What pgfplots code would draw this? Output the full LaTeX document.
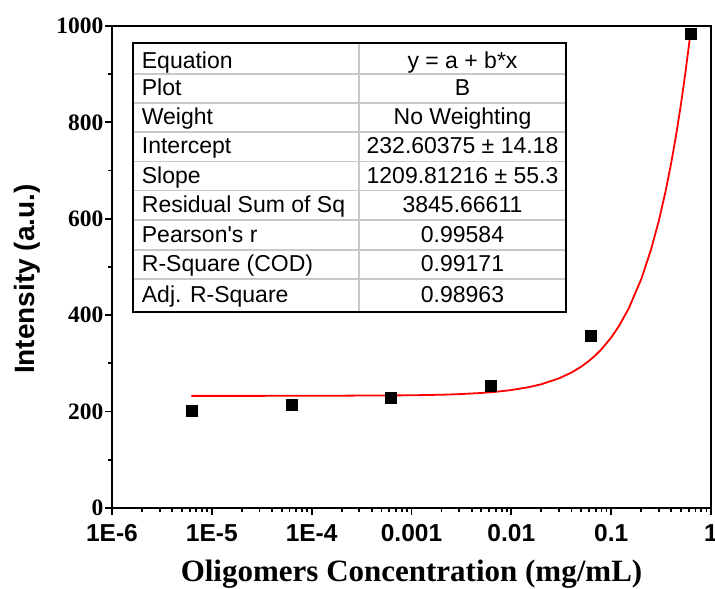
\documentclass[border=0pt]{standalone}
\usepackage{fontspec}
\setmainfont{Liberation Serif}
\newfontfamily\arial{Liberation Sans}
\usepackage{pgfplots}
\pgfplotsset{compat=1.18}
\definecolor{gridgray}{RGB}{200,200,200}
\begin{document}
\begin{tikzpicture}
\path[use as bounding box] (-112pt,-81pt) rectangle (603pt,508pt);
\begin{axis}[
  at={(0pt,0pt)}, anchor=south west,
  scale only axis, width=599pt, height=482pt,
  xmode=log, xmin=1e-6, xmax=1, ymin=0, ymax=1000,
  xtick={1e-6,1e-5,1e-4,1e-3,1e-2,1e-1,1},
  xticklabels={1E-6,1E-5,1E-4,0.001,0.01,0.1,1},
  minor xtick={2e-6,3e-6,4e-6,5e-6,6e-6,7e-6,8e-6,9e-6,
               2e-5,3e-5,4e-5,5e-5,6e-5,7e-5,8e-5,9e-5,
               2e-4,3e-4,4e-4,5e-4,6e-4,7e-4,8e-4,9e-4,
               2e-3,3e-3,4e-3,5e-3,6e-3,7e-3,8e-3,9e-3,
               2e-2,3e-2,4e-2,5e-2,6e-2,7e-2,8e-2,9e-2,
               2e-1,3e-1,4e-1,5e-1,6e-1,7e-1,8e-1,9e-1},
  ytick={0,200,400,600,800,1000},
  yticklabels={0,200,400,600,800,1000},
  minor ytick={100,300,500,700,900},
  tick align=outside, tick pos=left,
  major tick length=7pt, minor tick length=4pt,
  every tick/.style={black, line width=1.8pt},
  axis line style={line width=2.4pt},
  yticklabel style={font=\fontsize{23.5}{23.5}\selectfont\bfseries, xshift=2pt},
  xticklabel style={font=\arial\fontsize{24.5}{24.5}\selectfont\bfseries, yshift=-6pt},
  xlabel={Oligomers Concentration (mg/mL)},
  xlabel style={font=\fontsize{31}{31}\selectfont\bfseries, at={(axis description cs:0.5,-0.138)}, anchor=center},
  ylabel={Intensity (a.u.)},
  ylabel style={font=\arial\fontsize{28}{28}\selectfont\bfseries, at={(axis description cs:-0.142,0.475)}, anchor=center},
  clip=false,
]
\addplot[red, line width=1.8pt, no marks] coordinates {
(6.25e-6,232.611) (1e-5,232.616) (1e-4,232.725) (1e-3,233.813) (0.002,235.023)
(0.003,236.233) (0.005,238.653) (0.007,241.072) (0.01,244.702) (0.015,250.751)
(0.02,256.800) (0.03,268.898) (0.04,280.996) (0.05,293.094) (0.06,305.193)
(0.07,317.291) (0.08,329.389) (0.1,353.585) (0.12,377.781) (0.15,414.076)
(0.2,474.566) (0.25,535.057) (0.3,595.547) (0.35,656.038) (0.4,716.528)
(0.45,777.019) (0.5,837.510) (0.55,898.000) (0.6,958.491) (0.625,988.736)
};
\addplot[only marks, mark=square*, mark size=5.5pt, black] coordinates {
(6.25e-6,201) (6.25e-5,214) (6.25e-4,228) (6.25e-3,253) (0.0625,357) (0.625,985)
};
\end{axis}
% fit result table
\foreach \y in {433.7,404.7,375.7,346.3,317.3,288,258,228.7}
  \draw[gridgray, line width=1.6pt] (20.7pt,\y pt) -- (453.7pt,\y pt);
\draw[gridgray, line width=1.6pt] (247pt,196.3pt) -- (247pt,464.7pt);
\draw[black, line width=2pt] (20.7pt,196.3pt) rectangle (453.7pt,464.7pt);
\begin{scope}[every node/.style={font=\arial\fontsize{23}{23}\selectfont, inner sep=0pt}]
\foreach \t/\v/\b in {Equation/{y = a + b*x}/439,
                      Plot/B/412,
                      Weight/No Weighting/383,
                      Intercept/{232.60375 ± 14.18}/354,
                      Slope/{1209.81216 ± 55.3}/324.5,
                      Residual Sum of Sq/3845.66611/295.5,
                      Pearson's r/0.99584/265.5,
                      R-Square (COD)/0.99171/236,
                      Adj. R-Square/0.98963/205}{
  \node[anchor=base west] at (29.7pt,\b pt) {\t};
  \node[anchor=base] at (350.5pt,\b pt) {\v};
}
\end{scope}
\end{tikzpicture}
\end{document}
